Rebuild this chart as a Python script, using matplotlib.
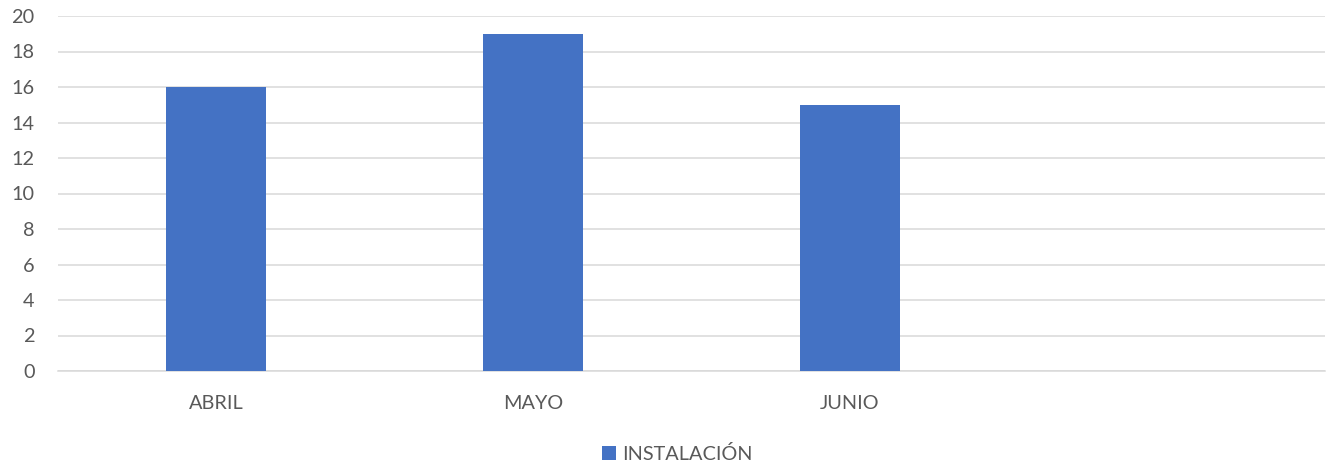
import matplotlib.pyplot as plt

# Data
months = ["ABRIL", "MAYO", "JUNIO", ""]
installs = [16, 19, 15, 0]
series_name = "INSTALACIÓN"
y_ticks = list(range(0, 21, 2))

plt.rcParams["font.family"] = ["Lato", "DejaVu Sans"]
text_color = "#595959"

fig = plt.figure(figsize=(13.27, 4.66), dpi=100)
ax = fig.add_axes([58 / 1327, 1 - 371 / 466, (1325 - 58) / 1327, (371 - 16) / 466])

x = list(range(len(months)))
heights = [v if m else 0 for m, v in zip(months, installs)]
bars = ax.bar(x, heights, width=0.316, color="#4472C4", label=series_name, zorder=3)

ax.set_xlim(-0.5, len(months) - 0.5)
ax.set_ylim(0, 20)
ax.set_yticks(y_ticks)
ax.set_xticks(x)
ax.set_xticklabels(months)

ax.grid(axis="y", color="#d9d9d9", linewidth=1.1, zorder=0)
for side in ["top", "right", "left"]:
    ax.spines[side].set_visible(False)
ax.spines["bottom"].set_color("#d9d9d9")
ax.spines["bottom"].set_linewidth(1.1)

ax.tick_params(axis="both", length=0, labelsize=14.3, colors=text_color)
ax.tick_params(axis="y", pad=17)
ax.tick_params(axis="x", pad=17.5)

leg = fig.legend(handles=[bars], labels=[series_name], loc="center",
                 bbox_to_anchor=(677 / 1327, 1 - 454 / 466), frameon=False,
                 fontsize=14.3, handlelength=0.72, handleheight=0.72,
                 handletextpad=0.3, labelcolor=text_color)

fig.savefig("out.png", dpi=100)
